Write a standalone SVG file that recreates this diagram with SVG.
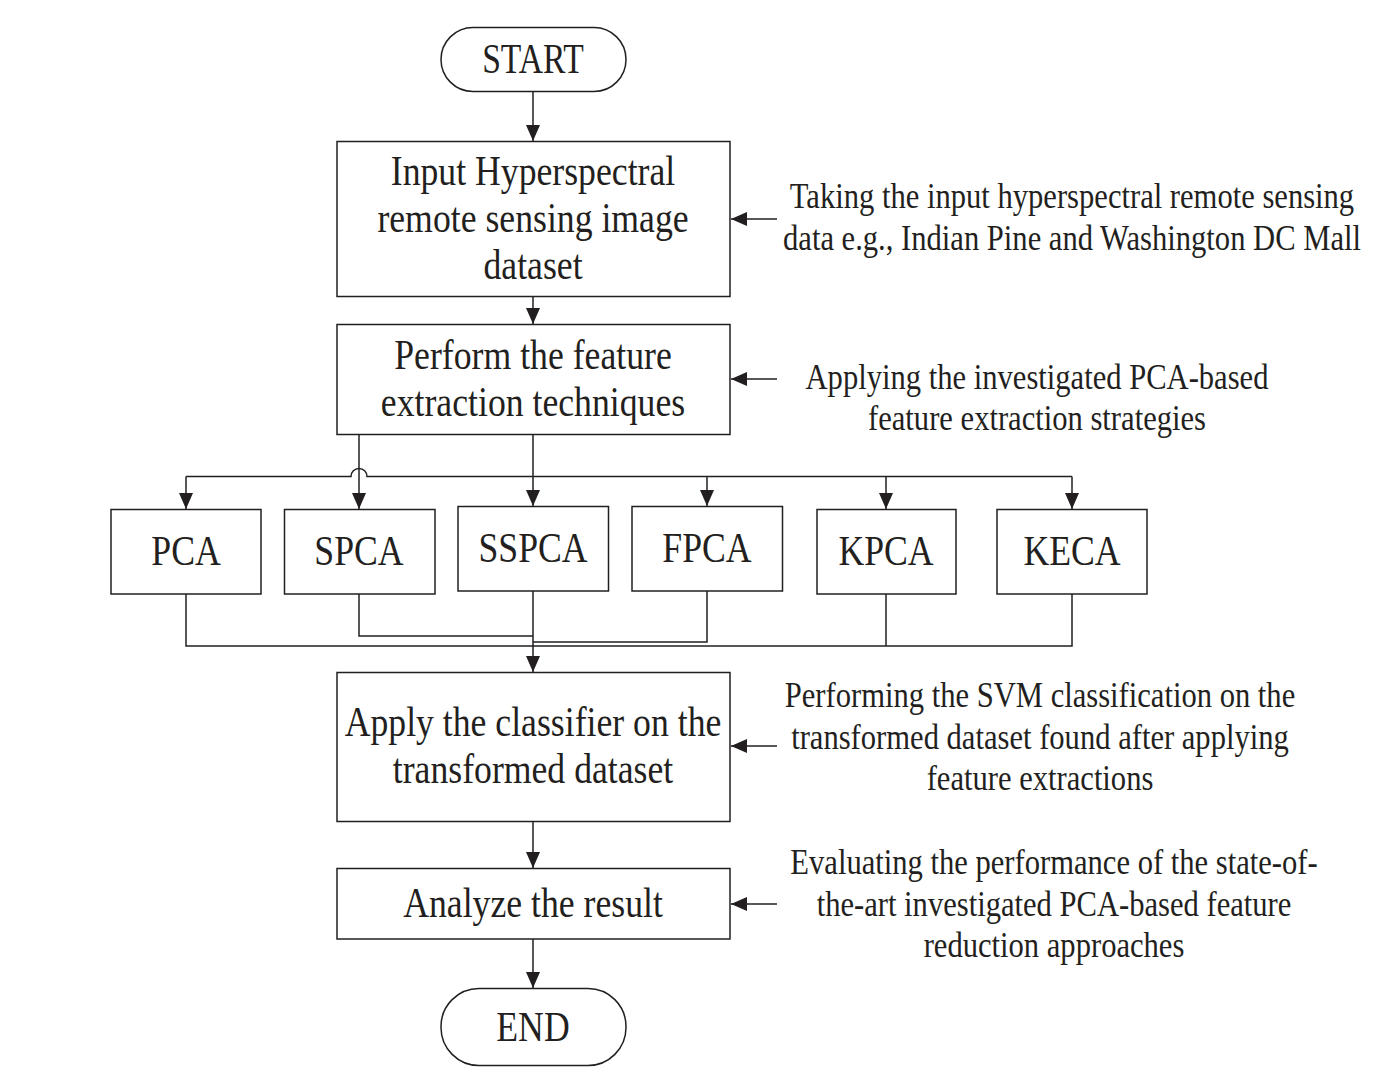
<svg xmlns="http://www.w3.org/2000/svg" width="1390" height="1086" viewBox="0 0 1390 1086">
<style>
.box{fill:#fff;stroke:#231f20;stroke-width:1.5}
.ln{fill:none;stroke:#231f20;stroke-width:1.5}
.t{font-family:"Liberation Serif","Times New Roman",serif;font-size:42px;fill:#231f20;text-anchor:middle}
.s{font-family:"Liberation Serif","Times New Roman",serif;font-size:36px;fill:#231f20;text-anchor:middle}
</style>
<defs>
<marker id="ah" markerUnits="userSpaceOnUse" markerWidth="16" markerHeight="14" refX="16" refY="7" orient="auto">
<path d="M0,0 L16,7 L0,14 z" fill="#231f20"/>
</marker>
</defs>
<rect width="1390" height="1086" fill="#fff"/>
<g id="connectors">
<path class="ln" d="M533,92 V141" marker-end="url(#ah)"/>
<path class="ln" d="M533,297 V324" marker-end="url(#ah)"/>
<path class="ln" d="M533,435 V506" marker-end="url(#ah)"/>
<path class="ln" d="M359,435 V509" marker-end="url(#ah)"/>
<path class="ln" d="M186,476.5 H351 A8,8 0 0 1 367,476.5 H1072"/>
<path class="ln" d="M186,476.5 V509" marker-end="url(#ah)"/>
<path class="ln" d="M707,476.5 V506" marker-end="url(#ah)"/>
<path class="ln" d="M886,476.5 V509" marker-end="url(#ah)"/>
<path class="ln" d="M1072,476.5 V509" marker-end="url(#ah)"/>
<path class="ln" d="M186,594 V646 H1072 V594"/>
<path class="ln" d="M886,594 V646"/>
<path class="ln" d="M359,594 V636 H533"/>
<path class="ln" d="M707,591 V642 H533"/>
<path class="ln" d="M533,591 V672" marker-end="url(#ah)"/>
<path class="ln" d="M533,822 V868" marker-end="url(#ah)"/>
<path class="ln" d="M533,939 V988" marker-end="url(#ah)"/>
<path class="ln" d="M777,219 H731" marker-end="url(#ah)"/>
<path class="ln" d="M777,379 H731" marker-end="url(#ah)"/>
<path class="ln" d="M777,746 H731" marker-end="url(#ah)"/>
<path class="ln" d="M777,904 H731" marker-end="url(#ah)"/>
</g>
<g id="start">
<rect class="box" x="441" y="27.5" width="185" height="64" rx="32" ry="32"/>
<text class="t" transform="translate(533,0) scale(0.8,1)"><tspan x="0" y="73">START</tspan></text>
</g>
<g id="input">
<rect class="box" x="337" y="141.5" width="393" height="155"/>
<text class="t" transform="translate(533,0) scale(0.85,1)"><tspan x="0" y="185">Input Hyperspectral</tspan><tspan x="0" y="232">remote sensing image</tspan><tspan x="0" y="279">dataset</tspan></text>
</g>
<g id="input-note">
<text class="s" transform="translate(1072,0) scale(0.85,1)"><tspan x="0" y="208">Taking the input hyperspectral remote sensing</tspan><tspan x="0" y="250">data e.g., Indian Pine and Washington DC Mall</tspan></text>
</g>
<g id="feature">
<rect class="box" x="337" y="324.5" width="393" height="110"/>
<text class="t" transform="translate(533,0) scale(0.85,1)"><tspan x="0" y="369">Perform the feature</tspan><tspan x="0" y="416">extraction techniques</tspan></text>
</g>
<g id="feature-note">
<text class="s" transform="translate(1037,0) scale(0.85,1)"><tspan x="0" y="389">Applying the investigated PCA-based</tspan><tspan x="0" y="430">feature extraction strategies</tspan></text>
</g>
<g id="pca">
<rect class="box" x="111" y="509.5" width="150" height="84.5"/>
<text class="t" transform="translate(186,0) scale(0.85,1)"><tspan x="0" y="565">PCA</tspan></text>
</g>
<g id="spca">
<rect class="box" x="284.5" y="509.5" width="150.5" height="84.5"/>
<text class="t" transform="translate(359,0) scale(0.85,1)"><tspan x="0" y="565">SPCA</tspan></text>
</g>
<g id="sspca">
<rect class="box" x="458" y="506.5" width="150.5" height="84.5"/>
<text class="t" transform="translate(533,0) scale(0.85,1)"><tspan x="0" y="562">SSPCA</tspan></text>
</g>
<g id="fpca">
<rect class="box" x="632" y="506.5" width="150.5" height="84.5"/>
<text class="t" transform="translate(707,0) scale(0.85,1)"><tspan x="0" y="562">FPCA</tspan></text>
</g>
<g id="kpca">
<rect class="box" x="817" y="509.5" width="139" height="84.5"/>
<text class="t" transform="translate(886,0) scale(0.85,1)"><tspan x="0" y="565">KPCA</tspan></text>
</g>
<g id="keca">
<rect class="box" x="997" y="509.5" width="150" height="84.5"/>
<text class="t" transform="translate(1072,0) scale(0.85,1)"><tspan x="0" y="565">KECA</tspan></text>
</g>
<g id="apply">
<rect class="box" x="337" y="672.5" width="393" height="149"/>
<text class="t" transform="translate(533,0) scale(0.85,1)"><tspan x="0" y="736">Apply the classifier on the</tspan><tspan x="0" y="783">transformed dataset</tspan></text>
</g>
<g id="apply-note">
<text class="s" transform="translate(1040,0) scale(0.85,1)"><tspan x="0" y="707">Performing the SVM classification on the</tspan><tspan x="0" y="749">transformed dataset found after applying</tspan><tspan x="0" y="790">feature extractions</tspan></text>
</g>
<g id="analyze">
<rect class="box" x="337" y="868.5" width="393" height="70.5"/>
<text class="t" transform="translate(533,0) scale(0.85,1)"><tspan x="0" y="917">Analyze the result</tspan></text>
</g>
<g id="analyze-note">
<text class="s" transform="translate(1054,0) scale(0.85,1)"><tspan x="0" y="874">Evaluating the performance of the state-of-</tspan><tspan x="0" y="916">the-art investigated PCA-based feature</tspan><tspan x="0" y="957">reduction approaches</tspan></text>
</g>
<g id="end">
<rect class="box" x="441" y="988.5" width="185" height="77" rx="38" ry="38"/>
<text class="t" transform="translate(533,0) scale(0.85,1)"><tspan x="0" y="1041">END</tspan></text>
</g>
</svg>
